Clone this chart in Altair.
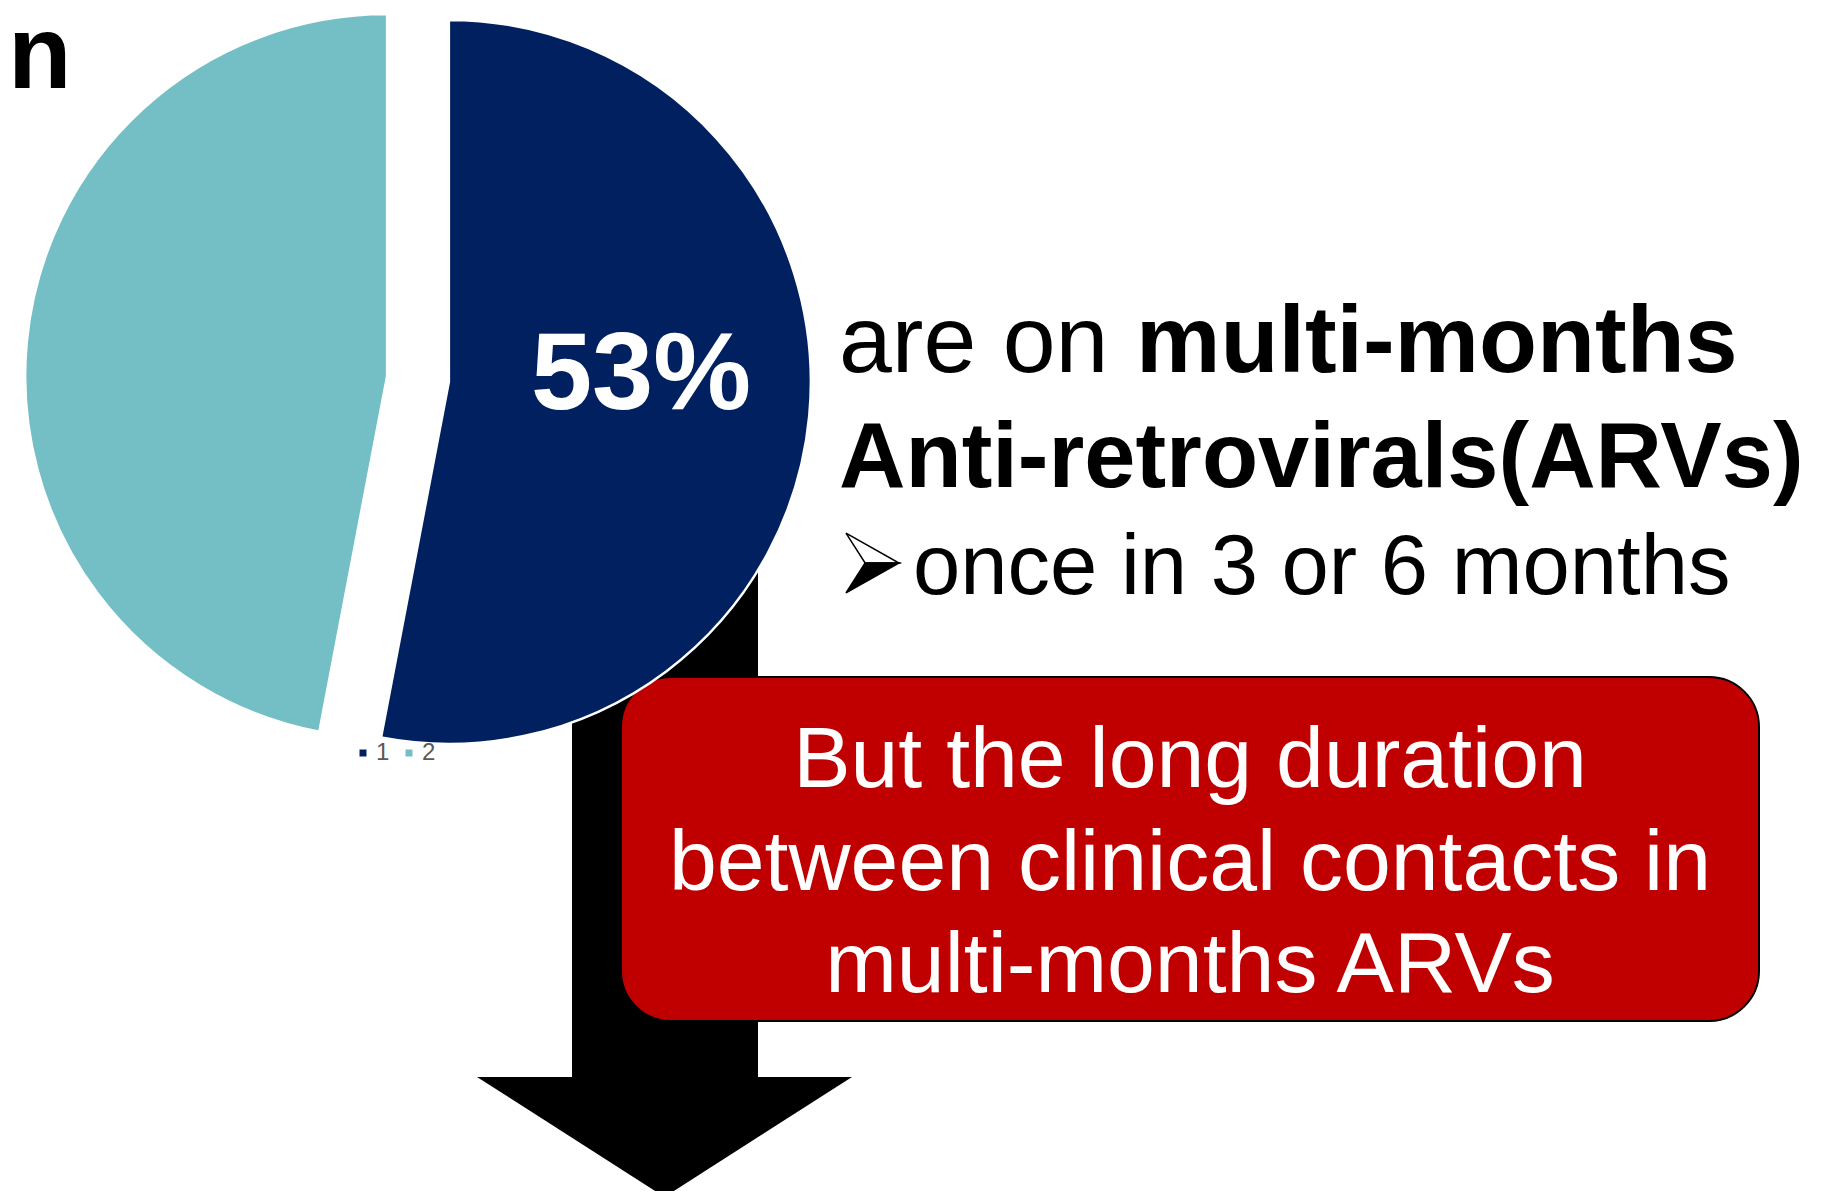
import math
import altair as alt
import pandas as pd

# ---------------- data ----------------
categories = ["1", "2"]
shares = [53, 47]
slice_colors = ["#002060", "#74BFC5"]

title_tail = "n"
headline_regular = "are on "
headline_bold = "multi-months"
headline_line2 = "Anti-retrovirals(ARVs)"
headline_line3 = "once in 3 or 6 months"
box_lines = ["But the long duration", "between clinical contacts in", "multi-months ARVs"]

# ---------------- layout ----------------
W, H = 1814, 1183
CX, CY = 410, 371
R = 362
EXPLODE = 31
FONT = "Liberation Sans"

df = pd.DataFrame({"cat": categories, "share": shares})

base = (
    alt.Chart(df)
    .transform_window(cum="sum(share)", sort=[alt.SortField("cat")], frame=[None, 0])
    .transform_joinaggregate(total="sum(share)")
    .transform_calculate(t0="(datum.cum - datum.share) / datum.total")
    .transform_calculate(t1="datum.cum / datum.total")
    .transform_calculate(mid="(datum.t0 + datum.t1) / 2")
    .transform_calculate(dx="sin(2 * PI * datum.mid)")
    .transform_calculate(dy="cos(2 * PI * datum.mid)")
    .transform_calculate(label="format(datum.share / datum.total, '.0%')")
)

x_scale = alt.Scale(domain=[-1, 1], range=[CX - EXPLODE, CX + EXPLODE], nice=False, zero=False)
y_scale = alt.Scale(domain=[-1, 1], range=[CY + EXPLODE, CY - EXPLODE], nice=False, zero=False)

pie = base.mark_arc(radius=R, stroke="white", strokeWidth=2.5).encode(
    x=alt.X("dx:Q", scale=x_scale, axis=None, stack=False),
    y=alt.Y("dy:Q", scale=y_scale, axis=None, stack=False),
    theta=alt.Theta("t0:Q", scale=alt.Scale(domain=[0, 1])),
    theta2="t1:Q",
    color=alt.Color(
        "cat:N",
        scale=alt.Scale(domain=categories, range=slice_colors),
        legend=alt.Legend(
            title=None,
            orient="none",
            legendX=343,
            legendY=733,
            direction="horizontal",
            symbolType="square",
            symbolSize=49,
            symbolStrokeWidth=0,
            labelFont=FONT,
            labelFontSize=24,
            labelColor="#595959",
            labelOffset=1,
            columnPadding=7,
            padding=0,
        ),
    ),
)

pct_label = base.transform_filter(alt.datum.cat == categories[0]).mark_text(
    font=FONT, fontSize=110, fontWeight="bold", color="white",
    align="center", baseline="alphabetic", dy=9,
).encode(
    x=alt.X("dx:Q", stack=False),
    y=alt.Y("dy:Q", stack=False),
    theta=alt.Theta("mid:Q"),
    radius=alt.value(193),
    text="label:N",
)

# ---------------- annotations ----------------
shaft = alt.Chart().mark_rect(fill="black").encode(
    x=alt.value(564), x2=alt.value(750), y=alt.value(412), y2=alt.value(1069)
)
head = alt.Chart().mark_point(
    shape="M-1,-0.32L1,-0.32L0,0.32Z", size=375 ** 2, filled=True,
    fill="black", opacity=1, strokeWidth=0,
).encode(x=alt.value(656.5), y=alt.value(1129))

box = alt.Chart().mark_rect(
    fill="#C00000", cornerRadius=50, stroke="black", strokeWidth=2
).encode(x=alt.value(613), x2=alt.value(1751), y=alt.value(669), y2=alt.value(1013))

box_text = alt.Chart().mark_text(
    text="\n".join(box_lines), lineBreak="\n", lineHeight=102.5,
    font=FONT, fontSize=86, color="white", align="center", baseline="alphabetic",
).encode(x=alt.value(1182), y=alt.value(779))

t1a = alt.Chart().mark_text(
    text=headline_regular, font=FONT, fontSize=95, color="black",
    align="left", baseline="alphabetic",
).encode(x=alt.value(831), y=alt.value(364))
t1b = alt.Chart().mark_text(
    text=headline_bold, font=FONT, fontSize=95, fontWeight="bold", color="black",
    align="left", baseline="alphabetic",
).encode(x=alt.value(1128), y=alt.value(364))
t2 = alt.Chart().mark_text(
    text=headline_line2, font=FONT, fontSize=92, fontWeight="bold", color="black",
    align="left", baseline="alphabetic",
).encode(x=alt.value(831), y=alt.value(479))

# 3-D arrowhead bullet: lit upper half, dark lower half
bullet_top = alt.Chart().mark_point(
    shape="M-1,-1.13L1,0L-0.28,0Z", size=53 ** 2, filled=True,
    fill="white", stroke="black", strokeWidth=1.5, opacity=1,
).encode(x=alt.value(864.5), y=alt.value(555))
bullet_bottom = alt.Chart().mark_point(
    shape="M-1,1.13L1,0L-0.28,0Z", size=53 ** 2, filled=True,
    fill="black", stroke="black", strokeWidth=1.5, opacity=1,
).encode(x=alt.value(864.5), y=alt.value(555))

t3 = alt.Chart().mark_text(
    text=headline_line3, font=FONT, fontSize=85, color="black",
    align="left", baseline="alphabetic",
).encode(x=alt.value(905), y=alt.value(586))

title = alt.Chart().mark_text(
    text=title_tail, font=FONT, fontSize=104, fontWeight="bold", color="black",
    align="left", baseline="alphabetic",
).encode(x=alt.value(0), y=alt.value(80))

chart = (
    alt.layer(shaft, head, box, box_text, t1a, t1b, t2, bullet_top, bullet_bottom,
              t3, pie, pct_label, title)
    .properties(width=W, height=H, padding=0, autosize="none", background="white")
    .configure_view(stroke=None)
)

chart.save("out.html", embed_options={"renderer": "svg", "actions": False})
